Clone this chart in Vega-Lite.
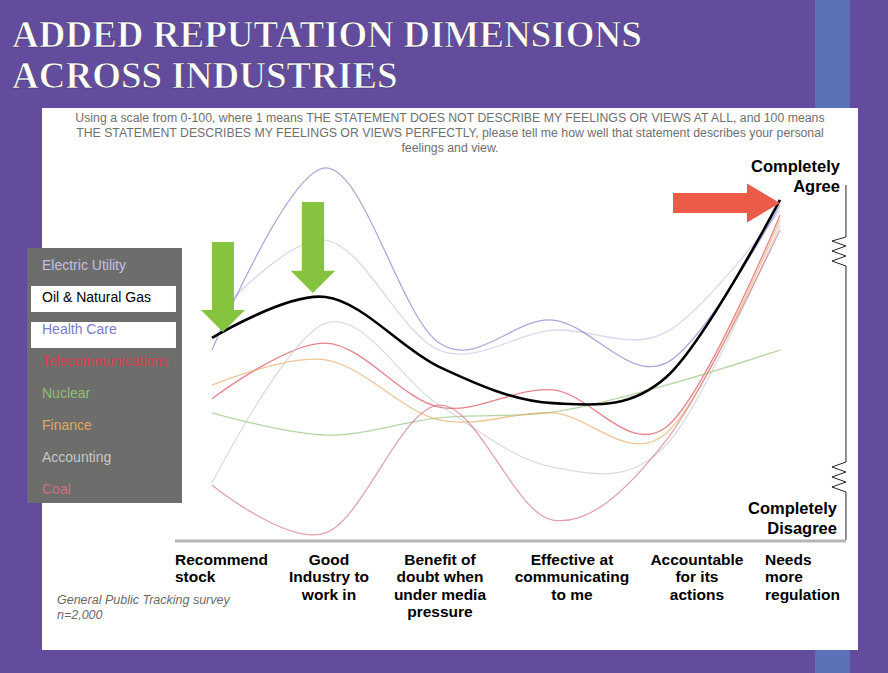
{
  "$schema": "https://vega.github.io/schema/vega-lite/v6.json",
  "width": 888,
  "height": 673,
  "autosize": {"type": "fit", "contains": "padding"},
  "padding": 0,
  "background": "#634b9e",
  "config": {"view": {"stroke": null}},
  "datasets": {
    "scores": [
      {"industry": "Electric Utility", "dimension": "Recommend stock", "idx": 0, "score": 56.4},
      {"industry": "Electric Utility", "dimension": "Good industry to work in", "idx": 1, "score": 76.9},
      {"industry": "Electric Utility", "dimension": "Benefit of doubt when under media pressure", "idx": 2, "score": 48.7},
      {"industry": "Electric Utility", "dimension": "Effective at communicating to me", "idx": 3, "score": 53.8},
      {"industry": "Electric Utility", "dimension": "Accountable for its actions", "idx": 4, "score": 53.3},
      {"industry": "Electric Utility", "dimension": "Needs more regulation", "idx": 5, "score": 84.6},
      {"industry": "Oil & Natural Gas", "dimension": "Recommend stock", "idx": 0, "score": 51.8},
      {"industry": "Oil & Natural Gas", "dimension": "Good industry to work in", "idx": 1, "score": 62.3},
      {"industry": "Oil & Natural Gas", "dimension": "Benefit of doubt when under media pressure", "idx": 2, "score": 44.4},
      {"industry": "Oil & Natural Gas", "dimension": "Effective at communicating to me", "idx": 3, "score": 35.1},
      {"industry": "Oil & Natural Gas", "dimension": "Accountable for its actions", "idx": 4, "score": 41.8},
      {"industry": "Oil & Natural Gas", "dimension": "Needs more regulation", "idx": 5, "score": 87.2},
      {"industry": "Health Care", "dimension": "Recommend stock", "idx": 0, "score": 48.7},
      {"industry": "Health Care", "dimension": "Good industry to work in", "idx": 1, "score": 95.4},
      {"industry": "Health Care", "dimension": "Benefit of doubt when under media pressure", "idx": 2, "score": 50.5},
      {"industry": "Health Care", "dimension": "Effective at communicating to me", "idx": 3, "score": 56.4},
      {"industry": "Health Care", "dimension": "Accountable for its actions", "idx": 4, "score": 45.4},
      {"industry": "Health Care", "dimension": "Needs more regulation", "idx": 5, "score": 85.9},
      {"industry": "Telecommunications", "dimension": "Recommend stock", "idx": 0, "score": 36.2},
      {"industry": "Telecommunications", "dimension": "Good industry to work in", "idx": 1, "score": 50.5},
      {"industry": "Telecommunications", "dimension": "Benefit of doubt when under media pressure", "idx": 2, "score": 34.1},
      {"industry": "Telecommunications", "dimension": "Effective at communicating to me", "idx": 3, "score": 38.5},
      {"industry": "Telecommunications", "dimension": "Accountable for its actions", "idx": 4, "score": 29.0},
      {"industry": "Telecommunications", "dimension": "Needs more regulation", "idx": 5, "score": 83.3},
      {"industry": "Nuclear", "dimension": "Recommend stock", "idx": 0, "score": 32.6},
      {"industry": "Nuclear", "dimension": "Good industry to work in", "idx": 1, "score": 26.9},
      {"industry": "Nuclear", "dimension": "Benefit of doubt when under media pressure", "idx": 2, "score": 31.3},
      {"industry": "Nuclear", "dimension": "Effective at communicating to me", "idx": 3, "score": 32.8},
      {"industry": "Nuclear", "dimension": "Accountable for its actions", "idx": 4, "score": 39.7},
      {"industry": "Nuclear", "dimension": "Needs more regulation", "idx": 5, "score": 48.7},
      {"industry": "Finance", "dimension": "Recommend stock", "idx": 0, "score": 39.7},
      {"industry": "Finance", "dimension": "Good industry to work in", "idx": 1, "score": 46.2},
      {"industry": "Finance", "dimension": "Benefit of doubt when under media pressure", "idx": 2, "score": 30.8},
      {"industry": "Finance", "dimension": "Effective at communicating to me", "idx": 3, "score": 32.6},
      {"industry": "Finance", "dimension": "Accountable for its actions", "idx": 4, "score": 27.4},
      {"industry": "Finance", "dimension": "Needs more regulation", "idx": 5, "score": 82.1},
      {"industry": "Accounting", "dimension": "Recommend stock", "idx": 0, "score": 14.6},
      {"industry": "Accounting", "dimension": "Good industry to work in", "idx": 1, "score": 55.6},
      {"industry": "Accounting", "dimension": "Benefit of doubt when under media pressure", "idx": 2, "score": 34.6},
      {"industry": "Accounting", "dimension": "Effective at communicating to me", "idx": 3, "score": 18.7},
      {"industry": "Accounting", "dimension": "Accountable for its actions", "idx": 4, "score": 24.4},
      {"industry": "Accounting", "dimension": "Needs more regulation", "idx": 5, "score": 80.8},
      {"industry": "Coal", "dimension": "Recommend stock", "idx": 0, "score": 14.1},
      {"industry": "Coal", "dimension": "Good industry to work in", "idx": 1, "score": 1.8},
      {"industry": "Coal", "dimension": "Benefit of doubt when under media pressure", "idx": 2, "score": 34.6},
      {"industry": "Coal", "dimension": "Effective at communicating to me", "idx": 3, "score": 5.1},
      {"industry": "Coal", "dimension": "Accountable for its actions", "idx": 4, "score": 25.6},
      {"industry": "Coal", "dimension": "Needs more regulation", "idx": 5, "score": 79.5}
    ]
  },
  "layer": [
    {
      "data": {"values": [{}]},
      "mark": {"type": "rect", "color": "#5a72b8"},
      "encoding": {
        "x": {"datum": 5.308, "type": "quantitative", "scale": {"domain": [-1.866, 5.951], "nice": false, "zero": false}, "axis": null},
        "x2": {"datum": 5.616},
        "y": {"datum": 138.46, "type": "quantitative", "scale": {"domain": [-34.1, 138.46], "nice": false, "zero": false}, "axis": null},
        "y2": {"datum": -34.1}
      }
    },
    {
      "data": {"values": [{}]},
      "mark": {"type": "rect", "color": "#ffffff"},
      "encoding": {
        "x": {"datum": -1.4965, "type": "quantitative"},
        "x2": {"datum": 5.687},
        "y": {"datum": 110.77, "type": "quantitative"},
        "y2": {"datum": -28.21}
      }
    },
    {
      "data": {"values": [{}]},
      "mark": {"type": "text", "text": ["ADDED REPUTATION DIMENSIONS", "ACROSS INDUSTRIES"], "font": "Liberation Serif", "fontWeight": "bold", "fontSize": 37, "lineHeight": 41, "align": "left", "baseline": "alphabetic", "color": "#ffffff", "stroke": "#3a2f60", "strokeWidth": 0.6},
      "encoding": {
        "x": {"datum": -1.7606, "type": "quantitative"},
        "y": {"datum": 126.41, "type": "quantitative"}
      }
    },
    {
      "data": {"values": [{}]},
      "mark": {"type": "text", "text": ["Using a scale from 0-100, where 1 means THE STATEMENT DOES NOT DESCRIBE MY FEELINGS OR VIEWS AT ALL, and 100 means", "THE STATEMENT DESCRIBES MY FEELINGS OR VIEWS PERFECTLY, please tell me how well that statement describes your personal", "feelings and view."], "font": "Liberation Sans", "fontSize": 12.3, "lineHeight": 15, "align": "center", "baseline": "alphabetic", "color": "#707070"},
      "encoding": {
        "x": {"datum": 2.095, "type": "quantitative"},
        "y": {"datum": 107.18, "type": "quantitative"}
      }
    },
    {
      "data": {"values": [{}]},
      "mark": {"type": "rect", "color": "#6d6d6b"},
      "encoding": {
        "x": {"datum": -1.6285, "type": "quantitative"},
        "x2": {"datum": -0.2641},
        "y": {"datum": 74.87, "type": "quantitative"},
        "y2": {"datum": 9.487}
      }
    },
    {
      "data": {"values": [{}]},
      "mark": {"type": "rect", "color": "#ffffff"},
      "encoding": {
        "x": {"datum": -1.5933, "type": "quantitative"},
        "x2": {"datum": -0.3169},
        "y": {"datum": 65.13, "type": "quantitative"},
        "y2": {"datum": 58.46}
      }
    },
    {
      "data": {"values": [{}]},
      "mark": {"type": "rect", "color": "#ffffff"},
      "encoding": {
        "x": {"datum": -1.5933, "type": "quantitative"},
        "x2": {"datum": -0.3169},
        "y": {"datum": 55.90, "type": "quantitative"},
        "y2": {"datum": 49.23}
      }
    },
    {
      "data": {"name": "scores"},
      "transform": [{"filter": "datum.industry !== 'Oil & Natural Gas'"}],
      "mark": {"type": "line", "interpolate": "cardinal", "strokeWidth": 1.3, "opacity": 0.65},
      "encoding": {
        "x": {"field": "idx", "type": "quantitative"},
        "y": {"field": "score", "type": "quantitative"},
        "color": {
          "field": "industry",
          "type": "nominal",
          "scale": {
            "domain": ["Electric Utility", "Oil & Natural Gas", "Health Care", "Telecommunications", "Nuclear", "Finance", "Accounting", "Coal"],
            "range": ["#c8c0e4", "#000000", "#7b7bc8", "#d8404f", "#8fbf73", "#e0a860", "#c8c8c8", "#d07080"]
          },
          "legend": {
            "orient": "none",
            "legendX": 24,
            "legendY": 259,
            "direction": "vertical",
            "title": null,
            "symbolSize": 0,
            "symbolOpacity": 0,
            "symbolStrokeWidth": 0,
            "labelFont": "Liberation Sans",
            "labelFontSize": 14,
            "labelOffset": 4,
            "rowPadding": 18,
            "padding": 0,
            "labelLimit": 200,
            "encode": {"labels": {"update": {"fill": {"scale": "color", "field": "value"}}}}
          }
        }
      }
    },
    {
      "data": {"name": "scores"},
      "transform": [{"filter": "datum.industry === 'Oil & Natural Gas'"}],
      "mark": {"type": "line", "interpolate": "cardinal", "strokeWidth": 2.6},
      "encoding": {
        "x": {"field": "idx", "type": "quantitative"},
        "y": {"field": "score", "type": "quantitative"},
        "color": {"field": "industry", "type": "nominal"}
      }
    },
    {
      "data": {"values": [{}]},
      "mark": {"type": "point", "shape": "M-0.245,-1L0.245,-1L0.245,0.51L0.49,0.51L0,1L-0.49,0.51L-0.245,0.51Z", "filled": true, "color": "#86c440", "opacity": 1, "size": 8100, "strokeWidth": 0},
      "encoding": {
        "x": {"datum": 0.0968, "type": "quantitative"},
        "y": {"datum": 64.87, "type": "quantitative"}
      }
    },
    {
      "data": {"values": [{}]},
      "mark": {"type": "point", "shape": "M-0.245,-1L0.245,-1L0.245,0.51L0.49,0.51L0,1L-0.49,0.51L-0.245,0.51Z", "filled": true, "color": "#86c440", "opacity": 1, "size": 8281, "strokeWidth": 0},
      "encoding": {
        "x": {"datum": 0.889, "type": "quantitative"},
        "y": {"datum": 75.0, "type": "quantitative"}
      }
    },
    {
      "data": {"values": [{}]},
      "mark": {"type": "point", "shape": "M-1,-0.187L0.383,-0.187L0.383,-0.364L1,0L0.383,0.364L0.383,0.187L-1,0.187Z", "filled": true, "color": "#ec5a48", "opacity": 1, "size": 11449, "strokeWidth": 0},
      "encoding": {
        "x": {"datum": 4.529, "type": "quantitative"},
        "y": {"datum": 86.41, "type": "quantitative"}
      }
    },
    {
      "data": {"values": [{}]},
      "mark": {"type": "point", "shape": "M0,-1L0,-0.707L-0.0789,-0.6845L0,-0.6563L-0.0789,-0.6282L0,-0.6L-0.0789,-0.5718L0,-0.5437M0,0.5606L-0.0789,0.5887L0,0.6169L-0.0789,0.6451L0,0.6732L-0.0789,0.7014L0,0.7296L0,1M0,-0.5437L0,0.5606", "filled": false, "color": "#222222", "opacity": 1, "size": 126025, "strokeWidth": 1},
      "encoding": {
        "x": {"datum": 5.581, "type": "quantitative"},
        "y": {"datum": 45.51, "type": "quantitative"}
      }
    },
    {
      "data": {"values": [{}]},
      "mark": {"type": "rule", "color": "#b5b5b5", "strokeWidth": 3},
      "encoding": {
        "x": {"datum": -0.3257, "type": "quantitative"},
        "x2": {"datum": 5.581},
        "y": {"datum": -0.256, "type": "quantitative"}
      }
    },
    {
      "data": {"values": [{}]},
      "mark": {"type": "text", "text": ["Completely", "Agree"], "font": "Liberation Sans", "fontWeight": "bold", "fontSize": 16.5, "lineHeight": 20, "align": "right", "baseline": "alphabetic", "color": "#000000"},
      "encoding": {
        "x": {"datum": 5.528, "type": "quantitative"},
        "y": {"datum": 94.36, "type": "quantitative"}
      }
    },
    {
      "data": {"values": [{}]},
      "mark": {"type": "text", "text": ["Completely", "Disagree"], "font": "Liberation Sans", "fontWeight": "bold", "fontSize": 16.5, "lineHeight": 20, "align": "right", "baseline": "alphabetic", "color": "#000000"},
      "encoding": {
        "x": {"datum": 5.5018, "type": "quantitative"},
        "y": {"datum": 6.667, "type": "quantitative"}
      }
    },
    {
      "data": {"values": [{}]},
      "mark": {"type": "text", "text": ["Recommend", "stock"], "font": "Liberation Sans", "fontWeight": "bold", "fontSize": 15.5, "lineHeight": 17.3, "align": "left", "baseline": "top", "color": "#000000"},
      "encoding": {
        "x": {"datum": -0.3257, "type": "quantitative"},
        "y": {"datum": -3.333, "type": "quantitative"}
      }
    },
    {
      "data": {"values": [{}]},
      "mark": {"type": "text", "text": ["Good", "Industry to", "work in"], "font": "Liberation Sans", "fontWeight": "bold", "fontSize": 15.5, "lineHeight": 17.3, "align": "center", "baseline": "top", "color": "#000000"},
      "encoding": {
        "x": {"datum": 1.03, "type": "quantitative"},
        "y": {"datum": -3.333, "type": "quantitative"}
      }
    },
    {
      "data": {"values": [{}]},
      "mark": {"type": "text", "text": ["Benefit of", "doubt when", "under media", "pressure"], "font": "Liberation Sans", "fontWeight": "bold", "fontSize": 15.5, "lineHeight": 17.3, "align": "center", "baseline": "top", "color": "#000000"},
      "encoding": {
        "x": {"datum": 2.007, "type": "quantitative"},
        "y": {"datum": -3.333, "type": "quantitative"}
      }
    },
    {
      "data": {"values": [{}]},
      "mark": {"type": "text", "text": ["Effective at", "communicating", "to me"], "font": "Liberation Sans", "fontWeight": "bold", "fontSize": 15.5, "lineHeight": 17.3, "align": "center", "baseline": "top", "color": "#000000"},
      "encoding": {
        "x": {"datum": 3.169, "type": "quantitative"},
        "y": {"datum": -3.333, "type": "quantitative"}
      }
    },
    {
      "data": {"values": [{}]},
      "mark": {"type": "text", "text": ["Accountable", "for its", "actions"], "font": "Liberation Sans", "fontWeight": "bold", "fontSize": 15.5, "lineHeight": 17.3, "align": "center", "baseline": "top", "color": "#000000"},
      "encoding": {
        "x": {"datum": 4.269, "type": "quantitative"},
        "y": {"datum": -3.333, "type": "quantitative"}
      }
    },
    {
      "data": {"values": [{}]},
      "mark": {"type": "text", "text": ["Needs", "more", "regulation"], "font": "Liberation Sans", "fontWeight": "bold", "fontSize": 15.5, "lineHeight": 17.3, "align": "left", "baseline": "top", "color": "#000000"},
      "encoding": {
        "x": {"datum": 4.868, "type": "quantitative"},
        "y": {"datum": -3.333, "type": "quantitative"}
      }
    },
    {
      "data": {"values": [{}]},
      "mark": {"type": "text", "text": ["General Public Tracking survey", "n=2,000"], "font": "Liberation Sans", "fontStyle": "italic", "fontSize": 12.5, "lineHeight": 15, "align": "left", "baseline": "top", "color": "#6a6a6a"},
      "encoding": {
        "x": {"datum": -1.3644, "type": "quantitative"},
        "y": {"datum": -13.846, "type": "quantitative"}
      }
    }
  ]
}
